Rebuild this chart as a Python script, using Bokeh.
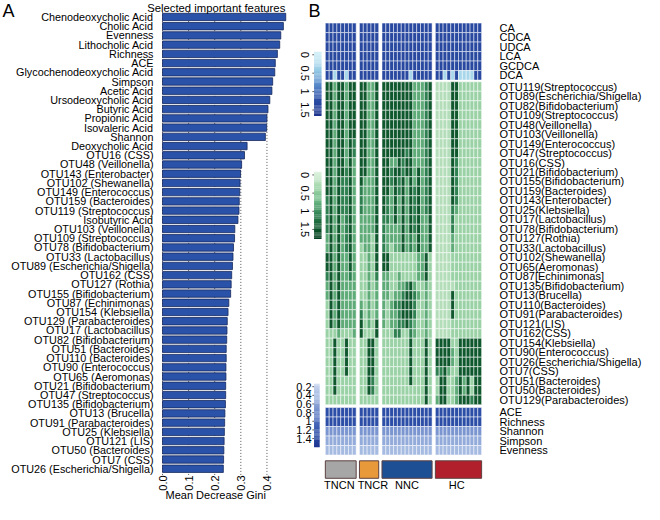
import numpy as np
from bokeh.plotting import figure
from bokeh.models import (ColumnDataSource, Range1d, FixedTicker,
                          LinearColorMapper, LinearAxis)
from bokeh.layouts import row
from bokeh.transform import transform
from bokeh.core.properties import value
from bokeh.embed import file_html
from bokeh.resources import INLINE

FONT = "Liberation Sans"

# ---------------- Panel A data ----------------
features = [
    "Chenodeoxycholic Acid", "Cholic Acid", "Evenness", "Lithocholic Acid", "Richness",
    "ACE", "Glycochenodeoxycholic Acid", "Simpson", "Acetic Acid", "Ursodeoxycholic Acid",
    "Butyric Acid", "Propionic Acid", "Isovaleric Acid", "Shannon", "Deoxycholic Acid",
    "OTU16 (CSS)", "OTU48 (Veillonella)", "OTU143 (Enterobacter)", "OTU102 (Shewanella)",
    "OTU149 (Enterococcus)", "OTU159 (Bacteroides)", "OTU119 (Streptococcus)", "Isobutyric Acid",
    "OTU103 (Veillonella)", "OTU109 (Streptococcus)", "OTU78 (Bifidobacterium)",
    "OTU33 (Lactobacillus)", "OTU89 (Escherichia/Shigella)", "OTU162 (CSS)", "OTU127 (Rothia)",
    "OTU155 (Bifidobacterium)", "OTU87 (Echinimonas)", "OTU154 (Klebsiella)",
    "OTU129 (Parabacteroides)", "OTU17 (Lactobacillus)", "OTU82 (Bifidobacterium)",
    "OTU51 (Bacteroides)", "OTU110 (Bacteroides)", "OTU90 (Enterococcus)", "OTU65 (Aeromonas)",
    "OTU21 (Bifidobacterium)", "OTU47 (Streptococcus)", "OTU135 (Bifidobacterium)",
    "OTU13 (Brucella)", "OTU91 (Parabacteroides)", "OTU25 (Klebsiella)", "OTU121 (LIS)",
    "OTU50 (Bacteroides)", "OTU7 (CSS)", "OTU26 (Escherichia/Shigella)",
]
gini = [
    0.472, 0.463, 0.453, 0.449, 0.440, 0.432, 0.430, 0.422, 0.419, 0.411,
    0.404, 0.400, 0.399, 0.394, 0.324, 0.314, 0.303, 0.299, 0.297, 0.296,
    0.294, 0.293, 0.289, 0.277, 0.276, 0.272, 0.270, 0.268, 0.265, 0.263,
    0.261, 0.254, 0.251, 0.248, 0.247, 0.246, 0.244, 0.244, 0.243, 0.243,
    0.242, 0.242, 0.241, 0.239, 0.238, 0.237, 0.236, 0.235, 0.234, 0.233,
]
gini_ticks = [0.0, 0.1, 0.2, 0.3, 0.4]

# ---------------- Panel B data ----------------
groups = ["TNCN", "TNCR", "NNC", "HC"]
group_sizes = [8, 5, 13, 12]
group_colors = ["#a6a6a6", "#e89a3a", "#1d4f94", "#b21f2c"]

bile_acids = ["CA", "CDCA", "UDCA", "LCA", "GCDCA", "DCA"]
bile_rows = [
    "44444444 44444 4444444444444 444444444444",
    "44444444 44444 4444444444444 444444444444",
    "44444444 44444 4444444444444 444444444444",
    "44444444 44444 4444444444444 444444444444",
    "44444444 44444 4444444444444 444444444444",
    "44044044 44444 4444444044444 440404000044",
]
bile_level_values = [0.3, 0.6, 0.9, 1.1, 1.3]

otus = [
    "OTU119(Streptococcus)", "OTU89(Escherichia/Shigella)", "OTU82(Bifidobacterium)",
    "OTU109(Streptococcus)", "OTU48(Veillonella)", "OTU103(Veillonella)",
    "OTU149(Enterococcus)", "OTU47(Streptococcus)", "OTU16(CSS)", "OTU21(Bifidobacterium)",
    "OTU155(Bifidobacterium)", "OTU159(Bacteroides)", "OTU143(Enterobacter)",
    "OTU25(Klebsiella)", "OTU17(Lactobacillus)", "OTU78(Bifidobacterium)", "OTU127(Rothia)",
    "OTU33(Lactobacillus)", "OTU102(Shewanella)", "OTU65(Aeromonas)", "OTU87[Echinimonas]",
    "OTU135(Bifidobacterium)", "OTU13(Brucella)", "OTU110(Bacteroides)",
    "OTU91(Parabacteroides)", "OTU121(LIS)", "OTU162(CSS)", "OTU154(Klebsiella)",
    "OTU90(Enterococcus)", "OTU26(Escherichia/Shigella)", "OTU7(CSS)", "OTU51(Bacteroides)",
    "OTU50(Bacteroides)", "OTU129(Parabacteroides)",
]
otu_rows = [
    "44244244 44224 4444444422234 000044111111",
    "44244244 44224 4444444422234 000044111111",
    "44244244 44224 4444444422234 000044111111",
    "44244244 44224 4444444422234 000044111111",
    "44244244 44224 4444444422234 000044111111",
    "44244244 44224 4444444422234 000044111111",
    "44244243 44224 4444444422234 000044111111",
    "44244243 44224 4444443422234 000044111111",
    "44244242 44224 4422434422234 000043111111",
    "44244342 44224 4434434424234 000043111111",
    "44243342 42224 4434342424234 000043111111",
    "44243342 32224 4424342434234 000043111111",
    "34243342 32224 4324242434234 000043111111",
    "34243342 32224 4324242434234 000032111111",
    "34242342 22224 3324242434224 000031111111",
    "34242342 22224 3222242434224 000031111111",
    "24242342 22214 3222242324224 000021111111",
    "24242342 12214 3212242324224 000021111111",
    "44242242 11214 4411111112241 000011111111",
    "44242242 11214 4411111112241 000011111111",
    "34242232 11213 2211211112241 000011111111",
    "24242222 11212 2211223421121 000001111111",
    "24242222 11212 2212234432121 000041111111",
    "14242222 21212 2123344431121 000041111111",
    "14242222 31212 2122344431121 000041111111",
    "14242222 41214 2122334321121 000011111111",
    "11121112 41114 1113311321121 000011111111",
    "11411411 11441 1111111411141 444411444444",
    "11411411 11441 1111111411141 444421444444",
    "11411411 11441 1111111411141 444421444444",
    "11411411 11441 1111111411141 334211444444",
    "11411111 11431 1111111411141 144112424144",
    "11411111 11431 1111111111141 144112424144",
    "11111111 11111 1111111111141 244112444344",
]
otu_level_values = [0.22, 0.38, 0.8, 1.1, 1.45]

diversity = ["ACE", "Richness", "Shannon", "Simpson", "Evenness"]
div_rows = [
    "44444444 44444 4444444444444 444444444444",
    "44444444 44444 4444444444444 444444444444",
    "22222222 22222 2222222222222 222222222222",
    "11111111 11111 1111111111111 111111111111",
    "00000000 00000 0000000000000 000000000000",
]
div_level_values = [0.42, 0.55, 0.72, 1.1, 1.3]

bile_ticks = [0, 0.5, 1, 1.5]
otu_ticks = [0, 0.5, 1, 1.5]
div_ticks = [0.2, 0.4, 0.6, 0.8, 1, 1.2, 1.4]


# ---------------- helpers ----------------
def make_palette(anchors, lo, hi, n=256):
    pos = [a[0] for a in anchors]
    rgb = [tuple(int(c[i:i + 2], 16) for i in (1, 3, 5)) for _, c in anchors]
    out = []
    for k in range(n):
        t = lo + (hi - lo) * k / (n - 1)
        comps = [np.interp(t, pos, [c[j] for c in rgb]) for j in range(3)]
        out.append("#%02x%02x%02x" % tuple(int(round(v)) for v in comps))
    return out


def style_axis(ax, size):
    ax.axis_line_color = None
    ax.major_tick_line_color = None
    ax.minor_tick_line_color = None
    ax.major_label_text_font = FONT
    ax.major_label_text_font_size = size
    ax.major_label_text_color = "black"


H = 504
W_A = 293
W_B = 351

# ---------------- Panel A ----------------
# data x: 0 at 162 px, 0.1 per 26.11 px ; data y: bar index, 9.22 px per bar
PX_X = 261.1
X0_PX = 162.0
PX_Y = 9.22
Y0_PX = 16.47
pA = figure(width=W_A, height=H,
            x_range=Range1d(-X0_PX / PX_X, (W_A - X0_PX) / PX_X),
            y_range=Range1d((H - Y0_PX) / PX_Y, -Y0_PX / PX_Y),
            output_backend="svg", toolbar_location=None, min_border=0,
            x_axis_location=None, y_axis_location=None)
pA.outline_line_color = None
pA.grid.visible = False

n_feat = len(features)
idx = list(range(n_feat))

# dotted reference lines
pA.segment(x0=gini_ticks, x1=gini_ticks, y0=[-0.55] * len(gini_ticks),
           y1=[n_feat - 0.15] * len(gini_ticks), line_color="#555555",
           line_dash="1 2", line_width=1)

srcA = ColumnDataSource(dict(i=idx, feature=features, gini=gini))
pA.hbar(y="i", right="gini", left=0, height=0.8, source=srcA,
        fill_color="#2a52a9", line_color="#17295e", line_width=0.8)

# category labels
pA.text(x=-9 / PX_X, y="i", text="feature", source=srcA, text_align="right",
        text_baseline="middle", text_font=value(FONT), text_font_size="10.8px",
        text_color="black")
# tick labels (vertical)
pA.text(x=gini_ticks, y=[n_feat + 0.55] * len(gini_ticks),
        text=["%.1f" % t for t in gini_ticks], angle=np.pi / 2,
        text_align="center", text_baseline="middle", text_font=value(FONT),
        text_font_size="11px", text_color="black")
pA.text(x=[0.2037], y=[n_feat + 1.81], text=["Mean Decrease Gini"], text_align="center",
        text_baseline="middle", text_font=value(FONT), text_font_size="11px",
        text_color="black")
pA.text(x=[0.2057], y=[-0.95], text=["Selected important features"], text_align="center",
        text_baseline="middle", text_font=value(FONT), text_font_size="11.3px",
        text_color="black")
pA.text(x=[-0.6128], y=[-0.68], text=["A"], text_align="left",
        text_baseline="middle", text_font=value(FONT), text_font_size="18px",
        text_color="black")

# ---------------- Panel B ----------------
GAP = 0.85
col_x = []
group_centers = []
start = 0.0
for size in group_sizes:
    col_x += [start + i + 0.5 for i in range(size)]
    group_centers.append(start + size / 2)
    start += size + GAP
label_nudge = [-0.35, 1.0, 0.0, -0.45]
group_label_x = [c + d for c, d in zip(group_centers, label_nudge)]

BILE_TOP, OTU_TOP, DIV_TOP = 0.0, 6.18, 40.48
bile_y = [BILE_TOP + i + 0.5 for i in range(len(bile_acids))]
otu_y = [OTU_TOP + i + 0.5 for i in range(len(otus))]
div_y = [DIV_TOP + i + 0.5 for i in range(len(diversity))]

blue_mapper = LinearColorMapper(
    palette=make_palette([(0.0, "#d4eff7"), (0.4, "#99cde6"), (0.8, "#5a8ccb"),
                          (1.2, "#2d4fa6"), (1.7, "#1a318a")], 0, 1.7), low=0, high=1.7)
green_mapper = LinearColorMapper(
    palette=make_palette([(0.0, "#d7efd8"), (0.3, "#a6d8ae"), (0.7, "#6db985"),
                          (1.1, "#2e8050"), (1.5, "#0b5329"), (1.8, "#003d1a")], 0, 1.8),
    low=0, high=1.8)
div_mapper = LinearColorMapper(
    palette=make_palette([(0.1, "#cfdaf0"), (0.4, "#a9bde3"), (0.7, "#7d98d0"),
                          (1.0, "#4c6cbc"), (1.3, "#2c4ea7"), (1.6, "#1c3592")], 0.1, 1.6),
    low=0.1, high=1.6)


def cells(rows, ys, levels):
    xs, yy, vv = [], [], []
    for r, y in zip(rows, ys):
        codes = r.replace(" ", "")
        for x, ch in zip(col_x, codes):
            xs.append(x)
            yy.append(y)
            vv.append(levels[int(ch)])
    return ColumnDataSource(dict(x=xs, y=yy, v=vv))


# y: row units of 9.497 px, 0 at the top of the CA row; frame spans the whole height
pB = figure(width=W_B, height=H, x_range=Range1d(-8.26, 41.30), y_range=Range1d(50.69, -2.378),
            output_backend="svg", toolbar_location=None, y_axis_location=None,
            x_axis_location=None, min_border=0, min_border_right=153)
pB.outline_line_color = None
pB.grid.visible = False

for rows, ys, levels, mapper in [(bile_rows, bile_y, bile_level_values, blue_mapper),
                                 (otu_rows, otu_y, otu_level_values, green_mapper),
                                 (div_rows, div_y, div_level_values, div_mapper)]:
    pB.rect(x="x", y="y", width=1, height=1, source=cells(rows, ys, levels),
            fill_color=transform("v", mapper), line_color="white", line_width=0.5)

# group bar
GB_Y, GB_H = 47.01, 1.84
srcG = ColumnDataSource(dict(x=group_centers, w=group_sizes, c=group_colors,
                             y=[GB_Y] * len(groups), lx=group_label_x, g=groups,
                             ly=[48.64] * len(groups)))
pB.rect(x="x", y="y", width="w", height=GB_H, fill_color="c", source=srcG,
        line_color="#5e4040", line_width=1)
pB.text(x="lx", y="ly", text="g", source=srcG, text_align="center", text_baseline="middle",
        text_font=value(FONT), text_font_size="11px", text_color="black")

row_centers = bile_y + otu_y + div_y
row_names = bile_acids + otus + diversity
rax = LinearAxis(ticker=FixedTicker(ticks=row_centers),
                 major_label_overrides={c: n for c, n in zip(row_centers, row_names)})
style_axis(rax, "11px")
rax.major_label_standoff = 9
pB.add_layout(rax, "right")


# colour legends
def legend_bar(v0, v1, y_of_v, x0, x1, mapper, n=60):
    vs = np.linspace(v0, v1, n + 1)
    mids = (vs[:-1] + vs[1:]) / 2
    h = abs(y_of_v(vs[1]) - y_of_v(vs[0]))
    src = ColumnDataSource(dict(x=[(x0 + x1) / 2] * n, y=[y_of_v(v) for v in mids], v=list(mids)))
    pB.rect(x="x", y="y", width=x1 - x0, height=h * 1.08, source=src,
            fill_color=transform("v", mapper), line_color=None)


def blue_pos(v):
    return (32.7 + 38.0 * v) / 9.8


def green_pos(v):
    return (156.7 + 37.5 * v) / 9.8


def div_pos(v):
    return (375.2 + 44.6 * (v - 0.2)) / 9.8


BX0, BX1, DX1 = -2.93, -0.98, -1.47
legend_bar(-0.08, 1.66, blue_pos, BX0, BX1, blue_mapper)
legend_bar(-0.09, 1.76, green_pos, BX0, BX1, green_mapper)
legend_bar(0.13, 1.60, div_pos, BX0, DX1, div_mapper)

for tks, pos in [(bile_ticks, blue_pos), (otu_ticks, green_pos)]:
    ys = [pos(t) for t in tks]
    pB.segment(x0=[BX0 - 0.45] * len(ys), x1=[BX0] * len(ys), y0=ys, y1=ys,
               line_color="#333333", line_width=0.8)
    pB.text(x=[-5.2] * len(ys), y=ys, text=[("%g" % t) for t in tks], angle=-np.pi / 2,
            text_align="center", text_baseline="middle", text_font=value(FONT),
            text_font_size="11px", text_color="black")

dys = [div_pos(t) for t in div_ticks]
pB.segment(x0=[BX0 - 0.45] * len(dys), x1=[BX0] * len(dys), y0=dys, y1=dys,
           line_color="#333333", line_width=0.8)
pB.text(x=[-3.55] * len(dys), y=dys, text=[("%g" % t) for t in div_ticks],
        text_align="right", text_baseline="middle", text_font=value(FONT),
        text_font_size="11px", text_color="black")

pB.text(x=[-2.81], y=[-1.26], text=["B"], text_align="center", text_baseline="middle",
        text_font=value(FONT), text_font_size="18px", text_color="black")

layout = row(pA, pB)
open("out.html", "w").write(file_html(layout, INLINE))
